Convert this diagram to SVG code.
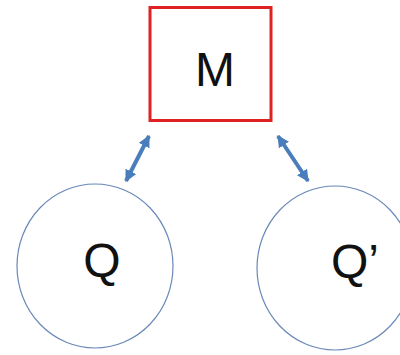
<svg xmlns="http://www.w3.org/2000/svg" width="400" height="355" viewBox="0 0 400 355">
<defs>
<style>
.lbl{font-family:"Liberation Sans",Arial,sans-serif;font-size:48px;fill:#111;text-anchor:middle}
.circ{fill:#fff;stroke:#6a88b8;stroke-width:1.2}
.conn{stroke:#4a7dbb;stroke-width:4;fill:none;marker-start:url(#ah);marker-end:url(#ah)}
</style>
<marker id="ah" viewBox="0 0 10 10" refX="9" refY="5" markerWidth="3" markerHeight="3" orient="auto-start-reverse" markerUnits="strokeWidth">
<path d="M0,0 L10,5 L0,10 Z" fill="#4a7dbb"/>
</marker>
</defs>
<rect width="400" height="355" fill="#fff"/>
<g id="node-M">
<rect x="150" y="7.5" width="121" height="113" fill="#fff" stroke="#e02222" stroke-width="3"/>
<text class="lbl" x="215" y="86">M</text>
</g>
<g id="node-Q">
<ellipse class="circ" cx="95" cy="266" rx="78" ry="82"/>
<text class="lbl" x="102" y="277">Q</text>
</g>
<g id="node-Qp">
<ellipse class="circ" cx="335" cy="268" rx="78" ry="82"/>
<text class="lbl" x="355" y="278">Q’</text>
</g>
<g id="connectors">
<line class="conn" x1="149" y1="136" x2="126" y2="181"/>
<line class="conn" x1="278" y1="136" x2="308" y2="181"/>
</g>
</svg>
